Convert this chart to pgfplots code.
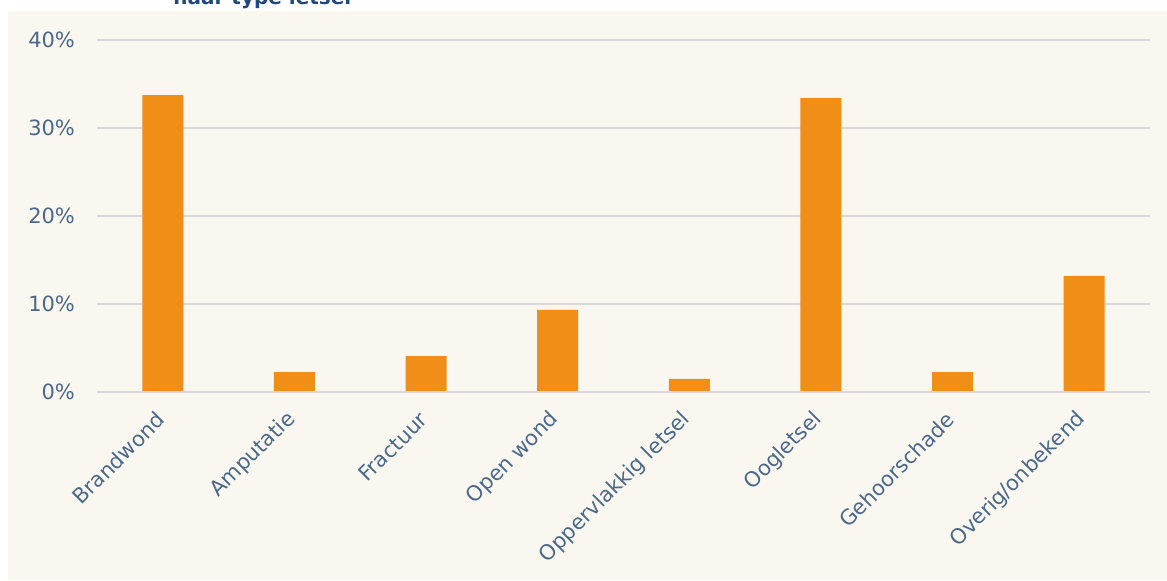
\documentclass[border=0pt]{standalone}
\usepackage{pgfplots}
\pgfplotsset{compat=1.18}
\usepackage{fontspec}
\setmainfont{DejaVu Sans}
\definecolor{cream}{RGB}{250,247,241}
\definecolor{barorange}{RGB}{240,142,24}
\definecolor{gridgray}{RGB}{217,217,217}
\definecolor{labelblue}{RGB}{74,104,136}
\definecolor{titleblue}{RGB}{31,73,125}
\begin{document}
\begin{tikzpicture}
\useasboundingbox (0,0) rectangle (583.5pt,290pt);
\clip (0,0) rectangle (583.5pt,290pt);
\fill[white] (0,0) rectangle (583.5pt,290pt);
\fill[cream] (4pt,0) rectangle (583.5pt,284.5pt);
\node[anchor=base west, font=\bfseries\fontsize{10pt}{12pt}\selectfont, text=titleblue, inner sep=0pt]
  at (86.5pt,287.5pt) {naar type letsel};
\begin{axis}[
  at={(48.5pt,94pt)}, anchor=south west,
  width=526.5pt, height=176pt, scale only axis,
  xmin=-0.5, xmax=7.5, ymin=0, ymax=40,
  axis line style={draw=none},
  axis x line*=bottom,
  ymajorgrids, grid style={gridgray, line width=0.75pt},
  major tick length=0pt,
  ytick={0,10,20,30,40},
  yticklabels={0\%,10\%,20\%,30\%,40\%},
  xtick={0,...,7},
  xticklabels={Brandwond,Amputatie,Fractuur,Open wond,Oppervlakkig letsel,Oogletsel,Gehoorschade,Overig/onbekend},
  tick label style={font=\fontsize{10.5pt}{12pt}\selectfont, text=labelblue},
  yticklabel style={xshift=-7.5pt},
  xticklabel style={xshift=1.3pt, yshift=-9.5pt, rotate=45, anchor=east},
  clip=false,
]
\addplot[ybar, bar width=20.5pt, fill=barorange, draw=none] coordinates {
  (0,33.75) (1,2.27) (2,4.09) (3,9.32) (4,1.48) (5,33.4) (6,2.27) (7,13.2)
};
\draw[gridgray, line width=0.75pt] (axis cs:-0.5,0) -- (axis cs:7.5,0);
\end{axis}
\end{tikzpicture}
\end{document}
